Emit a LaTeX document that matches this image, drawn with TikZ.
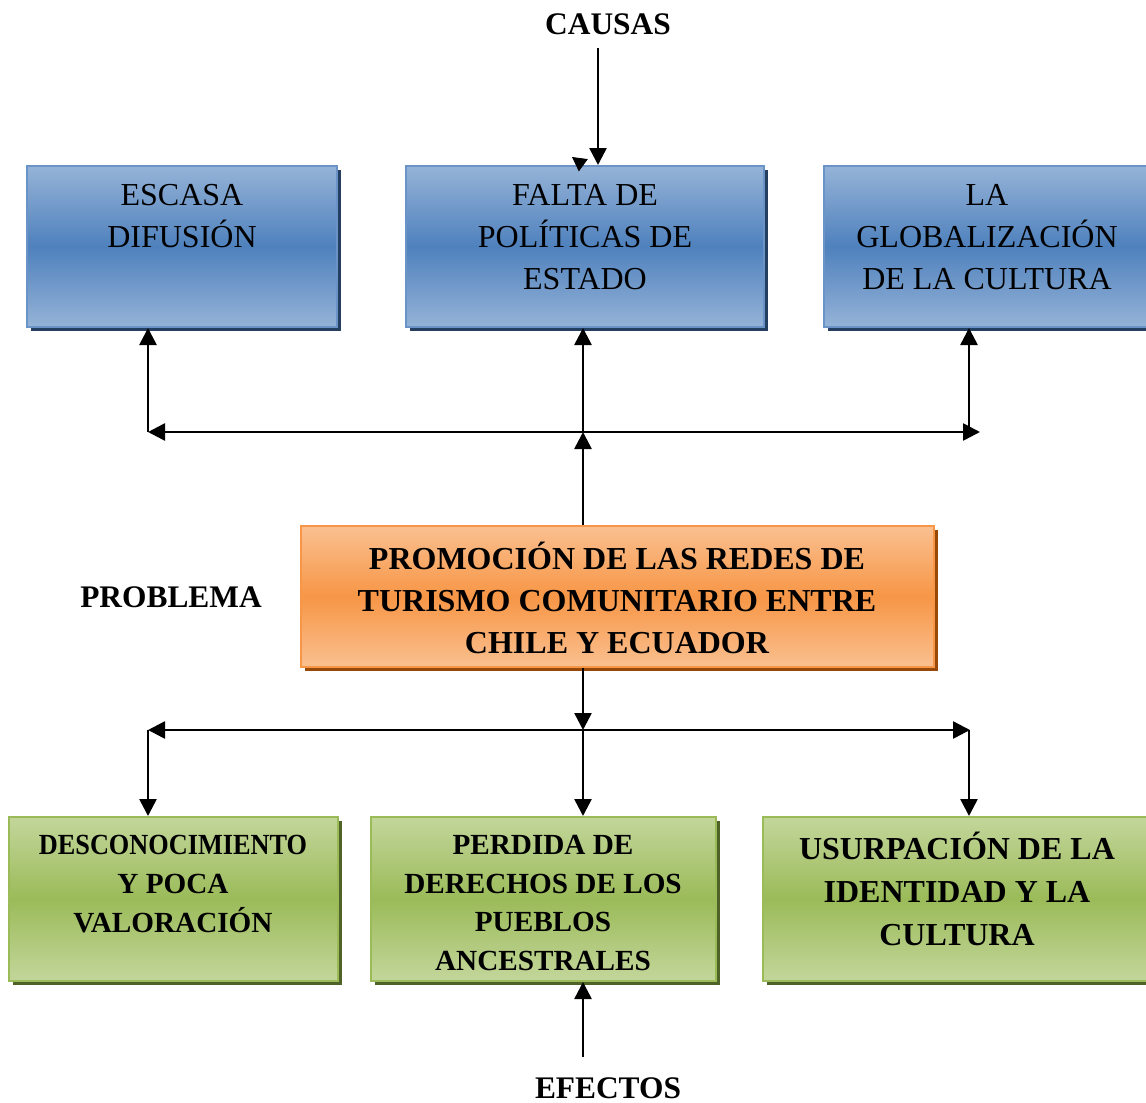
\documentclass[tikz,border=0pt]{standalone}
\usepackage{fontspec}
\setmainfont{Liberation Serif}
\usetikzlibrary{arrows.meta,shadows}

\definecolor{bluelight}{HTML}{95B3D7}
\definecolor{bluemid}{HTML}{4F81BD}
\definecolor{blueline}{HTML}{6A93C8}
\definecolor{bluedark}{HTML}{243F60}
\definecolor{orangelight}{HTML}{FAC090}
\definecolor{orangemid}{HTML}{F79646}
\definecolor{orangedark}{HTML}{984807}
\definecolor{greenlight}{HTML}{C3D69B}
\definecolor{greenmid}{HTML}{9BBB59}
\definecolor{greendark}{HTML}{4F6228}

\tikzset{
  box/.style={rectangle, line width=1pt, minimum height=80.5pt},
  bluebox/.style={box, draw=blueline, top color=bluelight, bottom color=bluelight, middle color=bluemid,
    drop shadow={shadow xshift=2pt, shadow yshift=-2pt, fill=bluedark, opacity=1}},
  orangebox/.style={box, draw=orangemid, top color=orangelight, bottom color=orangelight, middle color=orangemid,
    minimum height=70.5pt, minimum width=316.5pt,
    drop shadow={shadow xshift=2pt, shadow yshift=-2pt, fill=orangedark, opacity=1}},
  greenbox/.style={box, draw=greenmid, top color=greenlight, bottom color=greenlight, middle color=greenmid,
    minimum height=82pt,
    drop shadow={shadow xshift=2pt, shadow yshift=-2pt, fill=greendark, opacity=1}},
  causetext/.style={align=center, inner sep=0pt, font=\fontsize{16}{21}\selectfont},
  probtext/.style={align=center, inner sep=0pt, font=\fontsize{16}{21.2}\selectfont\bfseries},
  efftext/.style={align=center, inner sep=0pt, font=\fontsize{14.6}{19.3}\selectfont\bfseries},
  bigefftext/.style={align=center, inner sep=0pt, font=\fontsize{16}{21.5}\selectfont\bfseries},
  title/.style={inner sep=0pt, font=\fontsize{15.7}{19}\selectfont\bfseries},
  arr/.style={line width=1.3pt, -{Triangle[width=8.5pt,length=8.5pt]}},
  harr/.style={line width=1.3pt, {Triangle[width=8.5pt,length=8.5pt]}-{Triangle[width=8.5pt,length=8.5pt]}}
}

\begin{document}
\begin{tikzpicture}[x=0.5pt, y=-0.5pt]
  \useasboundingbox (0,0) rectangle (1146,1103);

  % causes
  \node[bluebox, minimum width=155pt] (escasa) at (182,246.5) {};
  \node[bluebox, minimum width=179pt] (falta) at (585,246.5) {};
  \node[bluebox, minimum width=163pt] (global) at (987,246.5) {};
  \node[causetext] (escasatxt) at (182,216) {ESCASA\\DIFUSIÓN};
  \node[causetext] (faltatxt) at (585,237) {FALTA DE\\POLÍTICAS DE\\ESTADO};
  \node[causetext] (globaltxt) at (987,237) {LA\\GLOBALIZACIÓN\\DE LA CULTURA};

  % problem
  \node[orangebox] (promo) at (617.5,596.5) {};
  \node[probtext] (promotxt) at (617,598) {PROMOCIÓN DE LAS REDES DE\\TURISMO COMUNITARIO ENTRE\\CHILE Y ECUADOR};

  % effects
  \node[greenbox, minimum width=164.5pt] (desc) at (173.5,899) {};
  \node[greenbox, minimum width=172.5pt] (perdida) at (543.5,899) {};
  \node[greenbox, minimum width=193.5pt] (usurp) at (956.5,899) {};
  \node[efftext] (desctxt) at (173,884) {\scalebox{0.9}[1]{DESCONOCIMIENTO}\\Y POCA\\VALORACIÓN};
  \node[efftext] (perdidatxt) at (543,903) {PERDIDA DE\\DERECHOS DE LOS\\PUEBLOS\\ANCESTRALES};
  \node[bigefftext] (usurptxt) at (957,889) {USURPACIÓN DE LA\\IDENTIDAD Y LA\\CULTURA};

  % labels
  \node[title] (causas) at (608,24) {CAUSAS};
  \node[title] (problema) at (171,597) {PROBLEMA};
  \node[title] (efectos) at (608,1088) {EFECTOS};

  % junctions
  \coordinate (ctop) at (598,48);
  \coordinate (tl) at (148,432);
  \coordinate (tm) at (583,432);
  \coordinate (tr) at (969,432);
  \coordinate (tend) at (980,432);
  \coordinate (bl) at (148,730);
  \coordinate (bm) at (583,730);
  \coordinate (br) at (969,730);
  \coordinate (bend) at (970,730);
  \coordinate (etail) at (583,1057);

  % top connectors
  \draw[arr] (ctop) -- (ctop |- falta.north);
  \draw[-{Triangle[width=7.5pt,length=7pt]}] (583,165) -- (572,157);
  \draw[harr] (tl) -- (tend);
  \draw[arr] (tl) -- (tl |- escasa.south);
  \draw[arr] (tm) -- (tm |- falta.south);
  \draw[arr] (tr) -- (tr |- global.south);
  \draw[arr] (tm |- promo.north) -- (tm);

  % bottom connectors
  \draw[arr] (bm |- promo.south) -- (bm);
  \draw[harr] (bl) -- (bend);
  \draw[arr] (bl) -- (bl |- desc.north);
  \draw[arr] (bm) -- (bm |- perdida.north);
  \draw[arr] (br) -- (br |- usurp.north);
  \draw[arr] (etail) -- (etail |- perdida.south);
\end{tikzpicture}
\end{document}
